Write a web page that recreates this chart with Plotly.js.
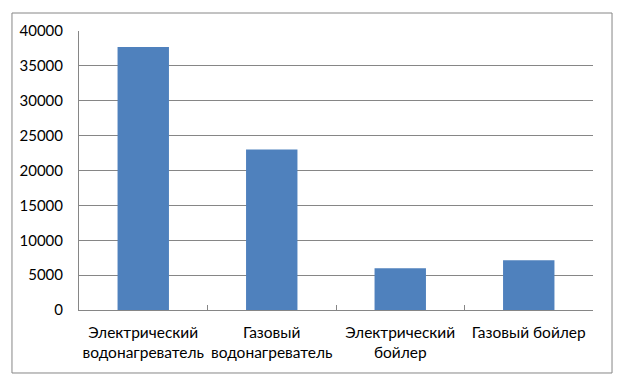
<!DOCTYPE html>
<html>
<head>
<meta charset="utf-8">
<script src="https://cdn.plot.ly/plotly-3.0.1.min.js"></script>
<style>html,body{margin:0;padding:0;background:#fff;}#chart{width:628px;height:388px;}</style>
</head>
<body>
<div id="chart"></div>
<script>
const categories = ["Электрический<br>водонагреватель", "Газовый<br>водонагреватель", "Электрический<br>бойлер", "Газовый бойлер"];
const values = [37700, 23000, 6000, 7150];
const yTicks = [0, 5000, 10000, 15000, 20000, 25000, 30000, 35000, 40000];

const grey = "#868686";
const font = {family: "Lato, 'Liberation Sans', sans-serif", size: 15.5, color: "#000"};
const yfont = {family: "Lato, 'Liberation Sans', sans-serif", size: 15, color: "#000"};

const trace = {
  type: "bar",
  x: categories,
  y: values,
  marker: {color: "#4F81BD"},
  hoverinfo: "none"
};

const layout = {
  width: 628, height: 388,
  margin: {l: 79, r: 35, t: 31, b: 78, pad: 0},
  paper_bgcolor: "#fff", plot_bgcolor: "#fff",
  font: font,
  showlegend: false,
  bargap: 0.6,
  xaxis: {
    type: "category",
    range: [-0.5, 3.5],
    showline: true, linecolor: grey, linewidth: 1,
    ticks: "inside", tickson: "boundaries", ticklen: 5, tickcolor: grey,
    showgrid: false, zeroline: false,
    tickangle: 0,
    ticklabelstandoff: 8,
    tickfont: font
  },
  yaxis: {
    range: [0, 40000],
    tickvals: yTicks,
    ticktext: yTicks.map(String),
    showline: true, linecolor: grey, linewidth: 1,
    showgrid: true, gridcolor: grey, gridwidth: 1,
    zeroline: false,
    ticks: "",
    ticklabelstandoff: 12,
    tickfont: yfont
  },
  shapes: [{
    type: "rect", xref: "paper", yref: "paper",
    x0: -0.1304, x1: 1.037, y0: -0.2258, y1: 1.0645,
    line: {color: grey, width: 1}, fillcolor: "rgba(0,0,0,0)", layer: "below"
  }]
};

Plotly.newPlot("chart", [trace], layout, {staticPlot: true, displayModeBar: false});
</script>
</body>
</html>
